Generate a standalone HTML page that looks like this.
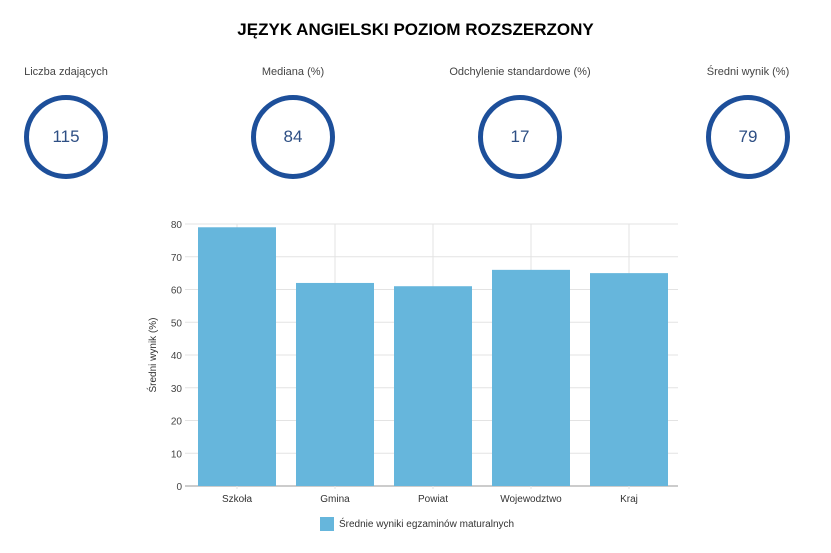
<!DOCTYPE html>
<html><head><meta charset="utf-8"><style>
body{margin:0;width:831px;height:553px;background:#fff;font-family:"Liberation Sans",sans-serif;overflow:hidden;position:relative}
.title{position:absolute;top:20px;left:0;width:831px;text-align:center;font-weight:bold;font-size:17px;color:#000}
.stat{position:absolute;top:66px;width:200px;text-align:center}
.stat .lab{font-size:11px;color:#444}
.stat .c{width:74px;height:74px;border:5px solid #1d4f9a;border-radius:50%;margin:17px auto 0;line-height:74px;font-size:17px;color:#2e4f84}
</style></head><body>
<div class="title">JĘZYK ANGIELSKI POZIOM ROZSZERZONY</div>
<div class="stat" style="left:-34px"><div class="lab">Liczba zdających</div><div class="c">115</div></div>
<div class="stat" style="left:193px"><div class="lab">Mediana (%)</div><div class="c">84</div></div>
<div class="stat" style="left:420px"><div class="lab">Odchylenie standardowe (%)</div><div class="c">17</div></div>
<div class="stat" style="left:648px"><div class="lab">Średni wynik (%)</div><div class="c">79</div></div>
<svg id="chart" width="831" height="553" style="position:absolute;left:0;top:0"></svg>
<script>
const categories=["Szkoła","Gmina","Powiat","Wojewodztwo","Kraj"];
const values=[79,62,61,66,65];
const ticks=[0,10,20,30,40,50,60,70,80];
const NS="http://www.w3.org/2000/svg";
const svg=document.getElementById('chart');
const L=188,R=678,T=224,B=486,maxV=80;
const y=v=>B-(v/maxV)*(B-T);
const band=(R-L)/categories.length;
const x=i=>L+i*band;
function mk(t,a,txt){const e=document.createElementNS(NS,t);for(const k in a)e.setAttribute(k,a[k]);if(txt!=null)e.textContent=txt;svg.appendChild(e);return e;}
ticks.forEach(t=>{
 const g=mk('line',{x1:L-3,x2:R,y1:y(t),y2:y(t),stroke:t===0?'#999':'#e3e3e3','stroke-width':1});
 
 
 const l=mk('text',{x:L-6,y:y(t)+4,'text-anchor':'end','font-size':10,fill:'#444','font-family':'Liberation Sans, sans-serif'},t);
 
 
});
categories.forEach((c,i)=>{
 const cx=x(i)+band/2;
 const v=mk('line',{x1:cx,x2:cx,y1:T,y2:B+3,stroke:'#e3e3e3','stroke-width':1});
 
 
});
categories.forEach((c,i)=>{
 const b=mk('rect',{x:x(i)+10,y:y(values[i]),width:band-20,height:B-y(values[i]),fill:'#66b6dc'});
 
 
 const l=mk('text',{x:x(i)+band/2,y:B+16,'text-anchor':'middle','font-size':10,fill:'#333','font-family':'Liberation Sans, sans-serif'},c);
 
 
});
const yt=mk('text',{x:0,y:0,transform:'translate(156,355) rotate(-90)','text-anchor':'middle','font-size':10,fill:'#333','font-family':'Liberation Sans, sans-serif'},'Średni wynik (%)');


const lr=mk('rect',{x:320,y:517,width:14,height:14,fill:'#66b6dc'});


const lt=mk('text',{x:339,y:527,'font-size':10,fill:'#333','font-family':'Liberation Sans, sans-serif'},'Średnie wyniki egzaminów maturalnych');


</script>
</body></html>
